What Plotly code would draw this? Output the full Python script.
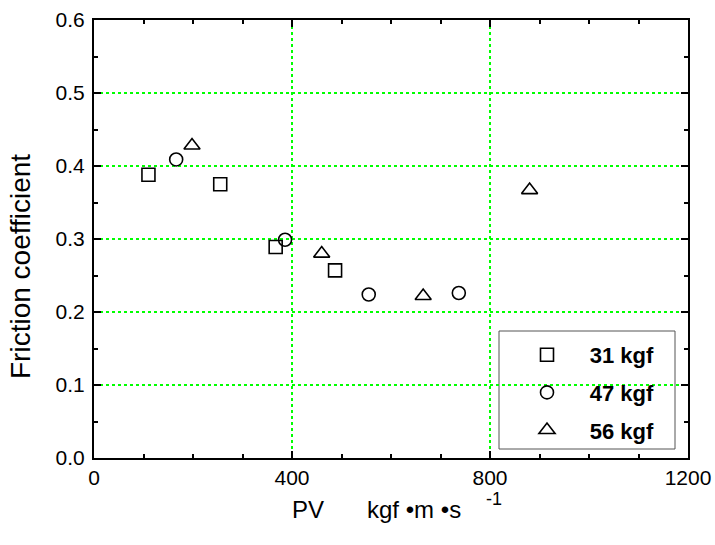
import plotly.graph_objects as go

# Data
pv_31 = [110, 255, 367, 487]
mu_31 = [0.388, 0.375, 0.289, 0.257]

pv_47 = [166, 386, 555, 737]
mu_47 = [0.409, 0.299, 0.224, 0.226]

pv_56 = [198, 460, 665, 880]
mu_56 = [0.428, 0.280, 0.222, 0.367]

series_names = ["31 kgf", "47 kgf", "56 kgf"]
symbols = ["square-open", "circle-open", "triangle-up-open"]

x_ticks = [0, 400, 800, 1200]
y_ticks = [0.0, 0.1, 0.2, 0.3, 0.4, 0.5, 0.6]

FONT = "Liberation Sans, Arial, sans-serif"

fig = go.Figure()
for i, (xs, ys) in enumerate([(pv_31, mu_31), (pv_47, mu_47), (pv_56, mu_56)]):
    fig.add_trace(go.Scatter(
        x=xs, y=ys, mode="markers",
        name="\u00a0\u00a0\u00a0\u2009" + series_names[i],
        legendgroup=str(i),
        marker=dict(symbol=symbols[i], size=13 if i < 2 else 14, color="black",
                    line=dict(width=1.6, color="black")),
    ))

axis_common = dict(
    showline=True, linewidth=2, linecolor="black", mirror="ticks",
    ticks="inside", ticklen=7, tickwidth=1.5, tickcolor="black",
    showgrid=True, gridcolor="#00ff00", griddash="dot", gridwidth=1.5,
    zeroline=False, automargin=False,
    tickfont=dict(family=FONT, size=21, color="black"),
)

fig.update_xaxes(
    range=[0, 1200], tickvals=x_ticks, ticktext=[str(v) for v in x_ticks],
    minor=dict(dtick=100, ticks="inside", ticklen=4, tickwidth=1.5, tickcolor="black", showgrid=False),
    **axis_common,
)
fig.update_yaxes(
    range=[0, 0.6], tickvals=y_ticks, ticktext=[f"{v:.1f}" for v in y_ticks],
    minor=dict(dtick=0.05, ticks="inside", ticklen=4, tickwidth=1.5, tickcolor="black", showgrid=False),
    ticklabelstandoff=3,
    **axis_common,
)

W, H = 715, 545
L, R, T, B = 94, 27, 20, 87
pw, ph = W - L - R, H - T - B

def px(x):
    return (x - L) / pw

def py(y):
    return (H - B - y) / ph

fig.update_layout(
    width=W, height=H,
    margin=dict(l=L, r=R, t=T, b=B, autoexpand=False),
    plot_bgcolor="white", paper_bgcolor="white",
    font=dict(family=FONT, color="black"),
    showlegend=True,
    legend=dict(
        x=px(527), y=py(334), xanchor="left", yanchor="top",
        borderwidth=0, bgcolor="rgba(0,0,0,0)",
        font=dict(family=FONT, size=22, color="black", weight="bold"),
        tracegroupgap=6, traceorder="grouped",
    ),
    shapes=[
        dict(type="rect", xref="paper", yref="paper",
             x0=px(499), x1=px(675), y0=py(449), y1=py(331),
             line=dict(color="#555555", width=1), fillcolor="white", layer="below"),
    ],
    annotations=[
        dict(text="Friction coefficient", xref="paper", yref="paper",
             x=px(20), y=py(267), textangle=-90, showarrow=False,
             font=dict(family=FONT, size=28, color="black"),
             xanchor="center", yanchor="middle"),
        dict(text="PV", xref="paper", yref="paper", x=px(308), y=py(509),
             showarrow=False, font=dict(family=FONT, size=24, color="black"),
             xanchor="center", yanchor="middle"),
        dict(text="kgf \u2022m \u2022s", xref="paper", yref="paper", x=px(414), y=py(510),
             showarrow=False, font=dict(family=FONT, size=24, color="black"),
             xanchor="center", yanchor="middle"),
        dict(text="-1", xref="paper", yref="paper", x=px(494), y=py(499),
             showarrow=False, font=dict(family=FONT, size=18, color="black"),
             xanchor="center", yanchor="middle"),
    ],
)

fig.write_html("out.html", config={"displayModeBar": False},
               post_script="document.body.style.margin='0';")
